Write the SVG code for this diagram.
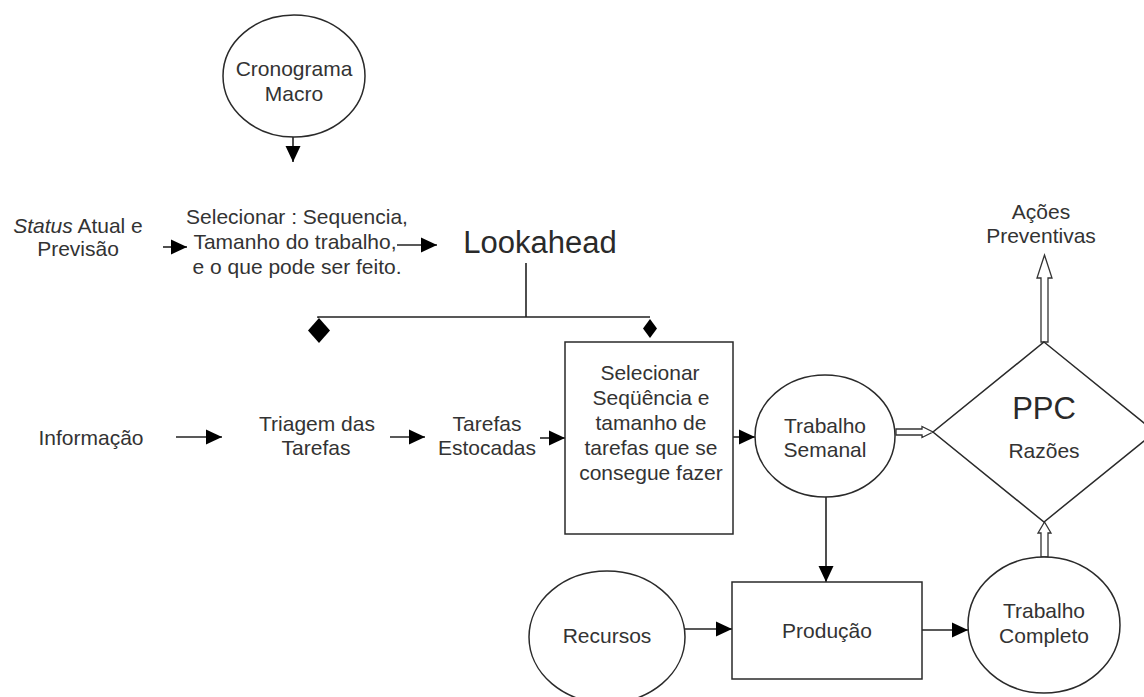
<svg xmlns="http://www.w3.org/2000/svg" width="1144" height="697" viewBox="0 0 1144 697">
<style>
.bg{fill:#fff}
.shape{fill:#fff;stroke:#2a2a2a;stroke-width:1.5}
.t{font-family:"Liberation Sans",Arial,sans-serif;font-size:21px;fill:#333;text-anchor:middle}
.big{font-size:31px;fill:#2a2a2a}
.ln{fill:none;stroke:#222;stroke-width:1.6}
.arr{marker-end:url(#ah)}
.dbl{fill:#fff;stroke:#333;stroke-width:1.3;stroke-linejoin:miter}
.dia{fill:#000}
</style>
<defs>
<marker id="ah" viewBox="0 0 16 16" markerUnits="userSpaceOnUse" markerWidth="16" markerHeight="16" refX="16" refY="8" orient="auto">
<path d="M0,0.5 L16,8 L0,15.5 Z" fill="#000"/>
</marker>
</defs>
<rect class="bg" x="0" y="0" width="1144" height="697"/>

<g id="connectors">
<line class="ln arr" x1="293" y1="137" x2="293" y2="162"/>
<line class="ln arr" x1="163" y1="247" x2="187" y2="247"/>
<line class="ln arr" x1="397" y1="245" x2="437" y2="245"/>
<path class="ln" d="M526,263 V317 M318,318 V317 H650"/>
<polygon class="dia" points="319,318 330,330.5 319,343 308,330.5"/>
<polygon class="dia" points="650,319 657,328.5 650,338 643,328.5"/>
<line class="ln arr" x1="176" y1="437" x2="222" y2="437"/>
<line class="ln arr" x1="390" y1="437" x2="425" y2="437"/>
<line class="ln arr" x1="540" y1="438" x2="565" y2="438"/>
<line class="ln arr" x1="733" y1="437" x2="755" y2="437"/>
<polygon class="dbl" points="896,429 922,429 922,426.5 933,432 922,437.5 922,435 896,435"/>
<line class="ln arr" x1="826" y1="497" x2="826" y2="582"/>
<line class="ln arr" x1="684" y1="629" x2="732" y2="629"/>
<line class="ln arr" x1="922" y1="630" x2="968" y2="630"/>
<polygon class="dbl" points="1041,557 1041,533 1038,533 1044.5,522 1051,533 1048,533 1048,557"/>
<polygon class="dbl" points="1041,342 1041,278 1037,278 1044.5,255 1052,278 1048,278 1048,342"/>
</g>

<g id="cronograma">
<ellipse class="shape" cx="294" cy="76" rx="71" ry="61"/>
<text class="t" x="294" y="75.5">Cronograma</text>
<text class="t" x="294" y="100.5">Macro</text>
</g>

<g id="status">
<text class="t" x="78" y="232.5"><tspan font-style="italic">Status</tspan> Atual e</text>
<text class="t" x="78" y="255.5">Previsão</text>
</g>

<g id="selecionar-lookahead">
<text class="t" x="297" y="223.5">Selecionar : Sequencia,</text>
<text class="t" x="295" y="248.5">Tamanho do trabalho,</text>
<text class="t" x="297" y="273.5">e o que pode ser feito.</text>
</g>

<g id="lookahead">
<text class="t big" x="540" y="253">Lookahead</text>
</g>

<g id="informacao">
<text class="t" x="91" y="444.5">Informação</text>
</g>

<g id="triagem">
<text class="t" x="317" y="430.5">Triagem das</text>
<text class="t" x="316" y="454.5">Tarefas</text>
</g>

<g id="estocadas">
<text class="t" x="487" y="430.5">Tarefas</text>
<text class="t" x="487" y="454.5">Estocadas</text>
</g>

<g id="selecionar-box">
<rect class="shape" x="565" y="342" width="168" height="192"/>
<text class="t" x="650" y="379.5">Selecionar</text>
<text class="t" x="651" y="404.5">Seqüência e</text>
<text class="t" x="651" y="429.5">tamanho de</text>
<text class="t" x="651" y="454.5">tarefas que se</text>
<text class="t" x="651" y="479.5">consegue fazer</text>
</g>

<g id="trabalho-semanal">
<ellipse class="shape" cx="825" cy="436" rx="70" ry="61"/>
<text class="t" x="825" y="432.5">Trabalho</text>
<text class="t" x="825" y="456.5">Semanal</text>
</g>

<g id="ppc">
<polygon class="shape" points="1044,342 1155,432 1044,522 933,432"/>
<text class="t big" x="1044" y="419">PPC</text>
<text class="t" x="1044" y="457.5">Razões</text>
</g>

<g id="acoes">
<text class="t" x="1041" y="218.5">Ações</text>
<text class="t" x="1041" y="242.5">Preventivas</text>
</g>

<g id="producao">
<rect class="shape" x="732" y="582" width="190" height="97"/>
<text class="t" x="827" y="637.5">Produção</text>
</g>

<g id="recursos">
<ellipse class="shape" cx="607" cy="637" rx="78" ry="66"/>
<text class="t" x="607" y="642.5">Recursos</text>
</g>

<g id="trabalho-completo">
<ellipse class="shape" cx="1044" cy="625" rx="76" ry="68"/>
<text class="t" x="1044" y="617.5">Trabalho</text>
<text class="t" x="1044" y="642.5">Completo</text>
</g>
</svg>
